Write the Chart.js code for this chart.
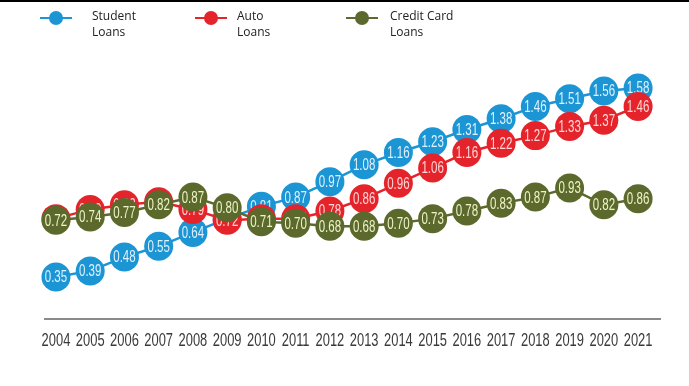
<!DOCTYPE html>
<html>
<head>
<meta charset="utf-8">
<script src="https://cdn.jsdelivr.net/npm/chart.js@4.4.1/dist/chart.umd.min.js"></script>
<style>
  body { margin: 0; background: #fff; }
  #wrap { position: relative; width: 689px; height: 386px; border-top: 2px solid #000; box-sizing: border-box; }
  canvas { position: absolute; left: 0; top: -2px; }
  .leg { position: absolute; top: 6px; font-family: "Open Sans", sans-serif; font-size: 12px; line-height: 16px; color: #222; }
  .mark { position: absolute; top: 15px; width: 32px; height: 2px; }
  .mark span { position: absolute; left: 9px; top: -6px; width: 14px; height: 14px; border-radius: 50%; }
</style>
</head>
<body>
<div id="wrap">
  <canvas id="myChart" width="689" height="386"></canvas>
  <div class="mark" style="left:40px;background:#1b95d4"><span style="background:#1b95d4"></span></div>
  <div class="leg" style="left:92px">Student<br>Loans</div>
  <div class="mark" style="left:195px;background:#e5232b"><span style="background:#e5232b"></span></div>
  <div class="leg" style="left:237px">Auto<br>Loans</div>
  <div class="mark" style="left:346px;background:#5b6a2c"><span style="background:#5b6a2c"></span></div>
  <div class="leg" style="left:390px">Credit Card<br>Loans</div>
</div>
<script>
const years = [2004, 2005, 2006, 2007, 2008, 2009, 2010, 2011, 2012, 2013, 2014, 2015, 2016, 2017, 2018, 2019, 2020, 2021];
const studentLoans = [0.35, 0.39, 0.48, 0.55, 0.64, 0.73, 0.81, 0.87, 0.97, 1.08, 1.16, 1.23, 1.31, 1.38, 1.46, 1.51, 1.56, 1.58];
const autoLoans = [0.73, 0.79, 0.82, 0.84, 0.79, 0.72, 0.73, 0.73, 0.78, 0.86, 0.96, 1.06, 1.16, 1.22, 1.27, 1.33, 1.37, 1.46];
const creditCardLoans = [0.72, 0.74, 0.77, 0.82, 0.87, 0.80, 0.71, 0.70, 0.68, 0.68, 0.70, 0.73, 0.78, 0.83, 0.87, 0.93, 0.82, 0.86];

function toPoints(values) {
    return years.map(function (y, i) { return { x: y, y: values[i] }; });
}

function makeSet(label, values, color, textColor, order) {
    return {
        label: label,
        data: toPoints(values),
        borderColor: color,
        backgroundColor: color,
        pointBackgroundColor: color,
        pointBorderWidth: 0,
        pointRadius: 14.5,
        borderWidth: 2.5,
        textColor: textColor,
        order: order,
        clip: false
    };
}

// the reference uses a very narrow font, so squeeze the text horizontally
function narrowText(ctx, text, x, y, squeeze) {
    ctx.save();
    ctx.translate(x, y);
    ctx.scale(squeeze, 1);
    ctx.fillText(text, 0, 0);
    ctx.restore();
}

// write each value inside its circle, right after that series is drawn
const valueLabels = {
    id: 'valueLabels',
    afterDatasetDraw: function (chart, args) {
        const ctx = chart.ctx;
        const ds = chart.data.datasets[args.index];
        ctx.save();
        ctx.font = '16px "Liberation Sans", Arial, sans-serif';
        ctx.fillStyle = ds.textColor;
        ctx.textAlign = 'center';
        ctx.textBaseline = 'middle';
        args.meta.data.forEach(function (pt, i) {
            narrowText(ctx, ds.data[i].y.toFixed(2), pt.x, pt.y + 1, 0.72);
        });
        ctx.restore();
    }
};

// year labels under the axis line
const yearLabels = {
    id: 'yearLabels',
    afterDraw: function (chart) {
        const ctx = chart.ctx;
        const xs = chart.scales.x;
        ctx.save();
        ctx.font = '19px "Liberation Sans", Arial, sans-serif';
        ctx.fillStyle = '#3a3a3a';
        ctx.textAlign = 'center';
        ctx.textBaseline = 'middle';
        years.forEach(function (y) {
            narrowText(ctx, String(y), xs.getPixelForValue(y), chart.chartArea.bottom + 22, 0.68);
        });
        ctx.restore();
    }
};

const ctx = document.getElementById('myChart').getContext('2d');
new Chart(ctx, {
    type: 'line',
    data: {
        datasets: [
            makeSet('Student Loans', studentLoans, '#1b95d4', '#dff2ff', 3),
            makeSet('Auto Loans', autoLoans, '#e5232b', '#ffd6d6', 2),
            makeSet('Credit Card Loans', creditCardLoans, '#5b6a2c', '#eef3c8', 1)
        ]
    },
    options: {
        responsive: false,
        animation: false,
        layout: { padding: { top: 60, left: 45, right: 29, bottom: 67 } },
        plugins: { legend: { display: false }, tooltip: { enabled: false } },
        scales: {
            x: {
                type: 'linear',
                min: 2003.68,
                max: 2021.64,
                afterBuildTicks: function (scale) {
                    scale.ticks = years.map(function (y) { return { value: y }; });
                },
                grid: { display: false, drawTicks: false },
                border: { display: true, color: '#8a8a8a', width: 2 },
                ticks: { display: false }
            },
            y: {
                display: false,
                min: 0.077,
                max: 1.762
            }
        }
    },
    plugins: [valueLabels, yearLabels]
});
</script>
</body>
</html>
